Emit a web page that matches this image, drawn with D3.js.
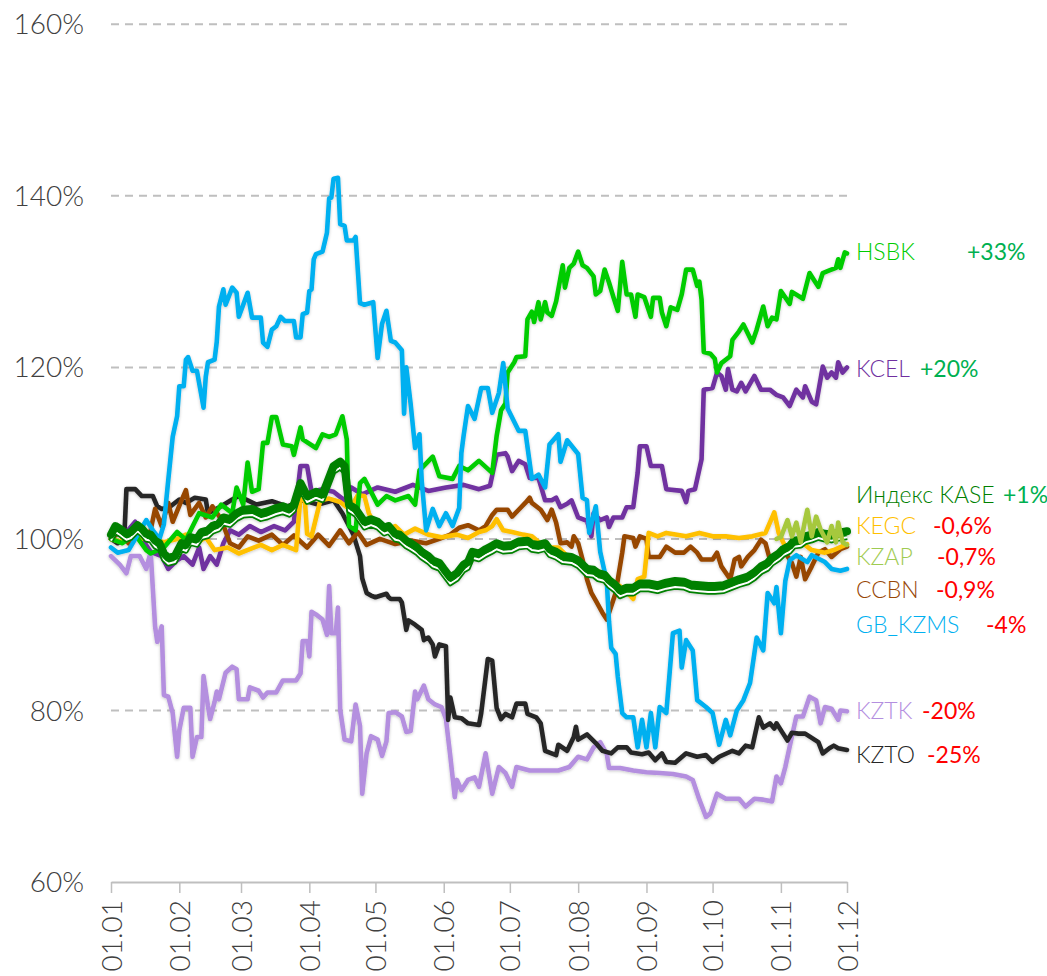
<!DOCTYPE html>
<html>
<head>
<meta charset="utf-8">
<script src="https://cdn.jsdelivr.net/npm/d3@7/dist/d3.min.js"></script>
<style>
  html, body { margin: 0; padding: 0; background: #fff; }
  svg { display: block; }
  text { font-family: Lato, "Open Sans", sans-serif; }
</style>
</head>
<body>
<div id="chart"></div>
<script>
// y axis ticks (percent of start value)
var yTicks = [60, 80, 100, 120, 140, 160];

// month starts for the x axis
var xTicks = ["01.01","01.02","01.03","01.04","01.05","01.06","01.07","01.08","01.09","01.10","01.11","01.12"];

// series: [date dd.mm, value in % of 01.01]
var kztk = [["01.01",98],["05.01",97],["08.01",96],["10.01",98],["14.01",98],["17.01",96.5],["19.01",98.5],["21.01",89.8],["22.01",88],["24.01",89.8],["25.01",81.8],["27.01",81.6],["29.01",79.7],["31.01",74.6],["01.02",77.7],["03.02",80.3],["06.02",80.3],["07.02",74.6],["09.02",76.9],["11.02",76.9],["12.02",84],["14.02",80.5],["15.02",79],["17.02",81],["18.02",82.2],["19.02",81.3],["22.02",84.4],["25.02",85.1],["27.02",84.8],["28.02",81.3],["04.03",81.3],["05.03",82.7],["09.03",82.3],["11.03",81.5],["13.03",82.1],["17.03",82.1],["20.03",83.5],["26.03",83.5],["28.03",84.3],["29.03",88.1],["31.03",88.1],["01.04",86.3],["02.04",91.5],["04.04",91.2],["07.04",90.6],["09.04",88.8],["10.04",94.5],["11.04",89],["13.04",89],["14.04",92],["15.04",80.1],["17.04",76.6],["20.04",76.4],["22.04",80.7],["24.04",78.2],["25.04",70.3],["27.04",75],["29.04",77],["02.05",76.6],["04.05",74.7],["06.05",76.4],["07.05",79.7],["10.05",79.8],["13.05",79.3],["15.05",77.5],["17.05",77.6],["19.05",82.2],["20.05",81.3],["23.05",82.9],["25.05",81.3],["28.05",80.7],["31.05",80.4],["02.06",79],["04.06",74.6],["06.06",69.9],["07.06",71.9],["09.06",70.7],["12.06",71.9],["15.06",72.2],["17.06",71.1],["20.06",75],["23.06",70.3],["26.06",73.4],["29.06",72.7],["02.07",71.1],["04.07",73.4],["10.07",73],["17.07",73],["23.07",73],["28.07",73.4],["01.08",74.6],["05.08",74.3],["08.08",75.7],["11.08",76.3],["14.08",74.9],["15.08",73.3],["20.08",73.3],["26.08",73],["01.09",72.8],["07.09",72.7],["13.09",72.6],["19.09",72.3],["22.09",71.9],["25.09",69.6],["28.09",67.6],["30.09",68],["03.10",70.3],["07.10",69.7],["13.10",69.7],["16.10",68.8],["20.10",69.7],["24.10",69.6],["28.10",69.4],["30.10",72.3],["01.11",71.5],["03.11",73.4],["05.11",75.8],["08.11",79.3],["11.11",79.3],["14.11",81.6],["17.11",81.2],["19.11",78.5],["21.11",80.4],["24.11",80.2],["27.11",78.9],["28.11",80],["01.12",79.9]];

var kzto = [["01.01",100],["04.01",99.5],["07.01",100],["08.01",105.8],["12.01",105.8],["15.01",105],["20.01",105],["22.01",103.8],["24.01",103.5],["27.01",103.6],["01.02",104.6],["04.02",104.2],["08.02",104.8],["13.02",104.6],["14.02",103],["20.02",103.8],["25.02",104.6],["28.02",105],["08.03",104],["15.03",104.4],["22.03",103.8],["29.03",104.5],["05.04",104],["12.04",104.5],["16.04",103],["19.04",101.5],["21.04",100.5],["24.04",98],["25.04",95.4],["27.04",93.7],["29.04",93.4],["01.05",93.2],["06.05",93.6],["07.05",93.2],["08.05",93],["12.05",93],["13.05",92.6],["15.05",89.4],["16.05",90.5],["19.05",90],["22.05",89.4],["23.05",88.2],["25.05",88.5],["27.05",87.7],["28.05",86.3],["30.05",87.7],["02.06",87.5],["03.06",78.9],["04.06",81.5],["06.06",79.2],["09.06",79.1],["12.06",78.5],["17.06",78.3],["18.06",79.7],["21.06",86],["23.06",85.8],["25.06",80.3],["27.06",79],["29.06",79.6],["02.07",79.2],["04.07",80.8],["08.07",80.8],["09.07",79.6],["13.07",79.2],["15.07",78.5],["17.07",75.3],["22.07",74.8],["23.07",76],["27.07",75.3],["30.07",76.9],["31.07",78.1],["01.08",76.6],["05.08",77.2],["09.08",76.2],["12.08",75.3],["16.08",75],["19.08",75.7],["23.08",75.7],["25.08",75.1],["30.08",74.9],["02.09",75.1],["05.09",74.2],["08.09",75],["10.09",74],["14.09",73.9],["19.09",75],["24.09",74.6],["28.09",74.8],["01.10",74],["04.10",74.6],["10.10",75.3],["13.10",75],["16.10",75.9],["19.10",75.7],["22.10",79.2],["24.10",78],["27.10",78.5],["29.10",77.9],["30.10",78.5],["02.11",77.3],["04.11",76.5],["06.11",77.4],["09.11",77.3],["12.11",77.3],["15.11",76.8],["18.11",76.3],["20.11",75],["23.11",75.6],["25.11",75.9],["27.11",75.6],["01.12",75.4]];

var kcel = [["01.01",100],["04.01",101.5],["07.01",100.5],["12.01",102],["15.01",100],["19.01",98.5],["24.01",98],["27.01",96.5],["31.01",97.5],["03.02",98],["07.02",97],["10.02",99],["12.02",96.5],["15.02",98],["18.02",97],["21.02",99.5],["24.02",101],["28.02",100.5],["05.03",101.5],["10.03",100.8],["16.03",101.5],["21.03",101],["25.03",102],["28.03",108.5],["31.03",108.5],["02.04",105.5],["07.04",105.8],["12.04",105.5],["17.04",104.5],["20.04",106],["25.04",105.2],["02.05",106],["10.05",105.5],["18.05",106.3],["25.05",105.6],["02.06",106],["10.06",106.3],["17.06",105.8],["22.06",106.2],["25.06",109.8],["29.06",110],["30.06",109.6],["02.07",107.9],["05.07",109.1],["08.07",108.7],["10.07",107.1],["14.07",107.1],["17.07",104.5],["20.07",104.5],["22.07",104.8],["24.07",103.7],["27.07",104.1],["29.07",104.5],["01.08",102.5],["05.08",102.1],["07.08",100.3],["08.08",103],["11.08",102.2],["14.08",102.5],["15.08",101.4],["17.08",102.5],["21.08",102.5],["23.08",103.7],["26.08",103.7],["28.08",107.7],["29.08",110.8],["01.09",110.8],["03.09",108.5],["08.09",108.5],["10.09",105.8],["17.09",105.6],["19.09",104.3],["20.09",105.6],["23.09",105.8],["26.09",109.3],["27.09",117.4],["01.10",117.6],["03.10",119.4],["05.10",119],["07.10",117.4],["08.10",119.8],["10.10",117.4],["12.10",117.2],["14.10",118.2],["16.10",117.2],["20.10",119],["23.10",117.4],["27.10",117.4],["30.10",116.8],["02.11",116.5],["05.11",115.5],["08.11",117.4],["11.11",116.5],["12.11",117.8],["15.11",116],["17.11",115.7],["20.11",120.1],["22.11",118.8],["24.11",119.4],["26.11",118.8],["27.11",120.6],["29.11",119.4],["01.12",120]];

var ccbn = [["01.01",100],["05.01",100.8],["09.01",99.5],["13.01",100.5],["18.01",99.8],["21.01",103.5],["24.01",101.5],["27.01",104.2],["29.01",102],["02.02",104.5],["04.02",105.7],["06.02",102.8],["10.02",104.2],["13.02",102.5],["16.02",103.8],["20.02",102.3],["24.02",99.5],["28.02",99],["04.03",100.3],["09.03",99.8],["15.03",100.5],["20.03",99.3],["25.03",100.4],["31.03",99],["05.04",100.5],["10.04",99.2],["15.04",101],["19.04",99.5],["23.04",100.8],["27.04",99.3],["03.05",100],["10.05",99.4],["17.05",99.8],["24.05",99.5],["30.05",100],["04.06",100.5],["08.06",101.3],["12.06",101.6],["17.06",101],["20.06",101.5],["23.06",102.8],["25.06",103.4],["30.06",103.4],["02.07",102.6],["05.07",103.4],["08.07",104.2],["10.07",104.8],["11.07",104.2],["15.07",103.4],["18.07",102.2],["20.07",103.4],["22.07",101.9],["24.07",99.5],["27.07",99.6],["29.07",99.1],["30.07",100.3],["01.08",99.5],["03.08",97.6],["05.08",95.3],["07.08",93.7],["09.08",92.8],["12.08",91.4],["14.08",90.6],["18.08",93.7],["21.08",98.4],["22.08",100.3],["26.08",100.1],["27.08",99.1],["29.08",100.3],["01.09",100],["02.09",97.9],["07.09",97.9],["10.09",99.1],["14.09",98.4],["18.09",98.4],["21.09",99.1],["24.09",98.4],["26.09",97.6],["01.10",97.6],["03.10",98.4],["05.10",96.8],["09.10",95.3],["11.10",97.6],["13.10",97.9],["14.10",96.8],["17.10",97.9],["20.10",98.7],["23.10",99.9],["25.10",99.5],["27.10",97.6],["31.10",97.6],["03.11",98.4],["06.11",97.2],["08.11",95.6],["10.11",97.9],["12.11",95.3],["15.11",96.8],["18.11",98.4],["21.11",98.8],["24.11",97.9],["28.11",98.8],["01.12",99.1]];

var kegc = [["01.01",100],["05.01",99.7],["09.01",100.4],["14.01",100],["19.01",100.2],["25.01",99.6],["31.01",100],["04.02",100.5],["09.02",99.5],["13.02",100.2],["17.02",98.7],["23.02",99],["28.02",98.3],["05.03",98.8],["10.03",99.3],["15.03",98.7],["20.03",99.3],["26.03",98.7],["28.03",105],["30.03",104.4],["31.03",100.6],["02.04",100.3],["06.04",104.5],["10.04",104.7],["15.04",104.3],["18.04",103.7],["20.04",103.7],["23.04",105.1],["26.04",105],["28.04",103],["30.04",102],["02.05",101.5],["04.05",101],["06.05",100.9],["10.05",101.5],["14.05",100.5],["19.05",101.2],["25.05",100.5],["31.05",100.2],["07.06",100.5],["12.06",100.1],["17.06",100.8],["20.06",101],["23.06",101.5],["25.06",102.3],["28.06",101],["02.07",100.8],["07.07",100.5],["11.07",100.3],["17.07",99],["23.07",99],["29.07",97.5],["03.08",96.8],["08.08",96.5],["14.08",95.7],["17.08",94.9],["20.08",94.5],["23.08",93.8],["26.08",93],["28.08",95.3],["31.08",95.6],["02.09",100.7],["06.09",100.3],["10.09",100.7],["19.09",100.3],["25.09",100.7],["01.10",100.3],["07.10",100.3],["13.10",100.1],["19.10",100.3],["25.10",100.7],["29.10",103.1],["31.10",100.7],["03.11",99.1],["07.11",99.2],["11.11",99.5],["15.11",98.7],["21.11",98.4],["25.11",98.7],["01.12",99.4]];

var hsbk = [["01.01",100],["06.01",99.5],["12.01",100.5],["17.01",98.7],["19.01",98.3],["25.01",99],["31.01",100.8],["04.02",99.9],["10.02",103],["16.02",102.5],["20.02",104],["25.02",103],["27.02",106],["02.03",104],["04.03",108.9],["06.03",105.5],["09.03",105.8],["11.03",111.2],["13.03",111.2],["15.03",114.2],["17.03",114.2],["20.03",111],["24.03",110.8],["25.03",109.8],["28.03",113],["29.03",111.6],["04.04",110.6],["07.04",112.2],["10.04",111.9],["13.04",112.2],["16.04",114.3],["18.04",111.6],["19.04",101.5],["22.04",101],["24.04",106.5],["26.04",107],["02.05",104],["06.05",105],["10.05",104.5],["16.05",105],["19.05",104],["21.05",108],["27.05",109.6],["30.05",107.3],["05.06",107],["08.06",108.5],["12.06",108],["17.06",109.1],["23.06",107.7],["25.06",112],["27.06",115],["29.06",115.8],["30.06",119.4],["03.07",120.6],["04.07",121.2],["08.07",121.3],["09.07",125.6],["11.07",126.5],["12.07",125.3],["14.07",127.6],["15.07",125.6],["17.07",127.6],["18.07",126.4],["20.07",126],["22.07",127.7],["25.07",131.9],["26.07",129.3],["28.07",131.6],["30.07",132.1],["01.08",133.5],["03.08",131.9],["05.08",131.6],["08.08",130.6],["09.08",128.5],["11.08",128.9],["13.08",131.4],["15.08",129.9],["17.08",128.2],["19.08",126.6],["21.08",132.3],["23.08",128.5],["25.08",128.5],["27.08",125.9],["28.08",128.5],["31.08",128.2],["03.09",125.9],["04.09",128.1],["07.09",128.1],["08.09",126.4],["10.09",124.8],["12.09",127],["15.09",126.7],["17.09",128.5],["19.09",131.4],["22.09",131.4],["24.09",129.5],["25.09",130],["26.09",127.9],["27.09",121.8],["30.09",121.6],["02.10",121],["03.10",119.4],["05.10",120.5],["09.10",121.3],["10.10",123.2],["13.10",124.2],["15.10",125],["19.10",122.9],["21.10",124.4],["24.10",127.1],["26.10",124.8],["28.10",125.8],["30.10",125.6],["01.11",128.9],["05.11",127.4],["06.11",128.8],["11.11",128],["14.11",131],["16.11",130.2],["18.11",129.4],["20.11",131],["23.11",131.3],["26.11",131.6],["27.11",132.6],["28.11",131.6],["30.11",133.4],["01.12",133.3]];

var gbkzms = [["01.01",99],["04.01",98.4],["09.01",98.7],["17.01",102.2],["20.01",101],["23.01",100],["25.01",101.7],["27.01",106.9],["29.01",111.9],["31.01",114.3],["01.02",117.8],["03.02",117.8],["04.02",120.9],["05.02",121.2],["07.02",119.6],["09.02",119.6],["12.02",115.3],["13.02",118.9],["14.02",120.6],["17.02",120.9],["18.02",123],["19.02",127.1],["21.02",129.1],["22.02",127.3],["25.02",129.3],["27.02",128.7],["28.02",125.9],["02.03",127.3],["04.03",128.7],["06.03",125.8],["10.03",125.8],["11.03",122.9],["13.03",122.4],["15.03",124.4],["17.03",124.8],["19.03",125.9],["21.03",125.4],["25.03",125.4],["26.03",123.5],["28.03",123.5],["29.03",126.2],["31.03",126.4],["01.04",128.9],["02.04",129.1],["03.04",132.6],["04.04",133.2],["07.04",133.5],["09.04",135.7],["10.04",139.7],["11.04",139.8],["12.04",142],["14.04",142.1],["15.04",136.7],["17.04",136.5],["18.04",134.8],["21.04",134.8],["22.04",135.2],["24.04",127.5],["26.04",127.3],["30.04",127.6],["02.05",121.1],["04.05",125.1],["06.05",126.6],["08.05",123.1],["10.05",122.9],["13.05",122],["14.05",114.6],["15.05",120],["17.05",115.7],["19.05",110.6],["21.05",112.2],["22.05",106.8],["24.05",101],["27.05",103.5],["30.05",101.5],["02.06",103],["05.06",101.5],["08.06",103.6],["09.06",110],["10.06",112],["12.06",115.5],["15.06",114],["18.06",117.6],["21.06",117.6],["23.06",114.7],["26.06",117],["28.06",120.5],["30.06",115.2],["05.07",112.6],["08.07",112.6],["11.07",107],["14.07",107.5],["17.07",106],["19.07",111],["23.07",112.2],["24.07",109],["27.07",111.5],["01.08",109.9],["03.08",104.8],["05.08",104.5],["06.08",100.7],["09.08",103.8],["11.08",98.5],["14.08",95],["15.08",90.4],["16.08",87.3],["18.08",86.6],["19.08",83.9],["21.08",79.7],["23.08",79.2],["26.08",79.2],["28.08",75.7],["30.08",78.9],["01.09",75.7],["03.09",79.7],["05.09",75.7],["07.09",80.4],["10.09",79.7],["13.09",89],["16.09",89.3],["17.09",85],["19.09",88.2],["22.09",87],["24.09",81.2],["28.09",80.4],["01.10",79.7],["04.10",76],["07.10",78.9],["09.10",77.1],["12.10",80],["15.10",81.2],["18.10",83.2],["21.10",88.5],["24.10",87],["26.10",93.7],["29.10",92.5],["30.10",94.4],["01.11",89],["03.11",95.1],["05.11",97.5],["08.11",98.1],["13.11",97.3],["15.11",98.1],["21.11",97.3],["24.11",96.5],["28.11",96.3],["01.12",96.5]];

var kase = [["01.01",100.5],["03.01",101.5],["05.01",101.2],["08.01",100.6],["10.01",100.8],["13.01",101.6],["15.01",101.2],["17.01",100.6],["19.01",100.5],["21.01",99.8],["23.01",99.5],["25.01",98.3],["27.01",97.8],["30.01",98],["02.02",99.5],["04.02",99.3],["06.02",100.2],["09.02",100],["11.02",100.8],["14.02",101],["16.02",101.5],["19.02",101.8],["21.02",102.5],["24.02",102.3],["27.02",103],["02.03",103.4],["06.03",103.5],["10.03",103],["13.03",103.2],["17.03",103.6],["20.03",103.8],["23.03",103.5],["25.03",104],["28.03",106.5],["31.03",105],["04.04",105.5],["07.04",105.2],["09.04",106.5],["12.04",108.5],["15.04",109],["17.04",108.5],["19.04",104],["22.04",103.5],["26.04",102],["29.04",102.3],["02.05",102],["05.05",101.3],["07.05",101.5],["10.05",100.6],["12.05",100.5],["15.05",99.8],["17.05",99.5],["20.05",99],["22.05",98.5],["25.05",98],["27.05",97.5],["30.05",97.2],["01.06",96.5],["04.06",95.5],["07.06",96],["10.06",97],["12.06",97.3],["14.06",98.5],["17.06",98.3],["20.06",98.8],["23.06",99.2],["25.06",99.5],["28.06",99.2],["02.07",99.3],["05.07",99.7],["09.07",99.8],["11.07",99.4],["14.07",99.3],["17.07",99.5],["19.07",98.8],["22.07",98.5],["25.07",98],["29.07",97.9],["01.08",97.5],["05.08",96.5],["08.08",96.4],["10.08",96],["13.08",95.8],["15.08",95.2],["18.08",94.6],["20.08",94],["23.08",94.3],["26.08",94.3],["29.08",94.8],["02.09",94.8],["06.09",94.6],["10.09",94.9],["14.09",95.1],["18.09",95],["21.09",94.7],["25.09",94.6],["29.09",94.5],["02.10",94.5],["06.10",94.6],["09.10",94.9],["13.10",95.3],["17.10",95.6],["20.10",96.1],["23.10",96.8],["26.10",97.2],["28.10",97.8],["31.10",98.3],["02.11",98.8],["05.11",99.2],["07.11",99.8],["10.11",99.9],["12.11",100.3],["15.11",100.5],["18.11",100.8],["21.11",100.6],["24.11",100.5],["27.11",100.7],["01.12",100.9]];

var kzap = [["30.10",100],["01.11",100.2],["04.11",102.2],["06.11",100.3],["08.11",101.9],["10.11",99.6],["12.11",102.2],["13.11",103.4],["15.11",100.3],["17.11",102.6],["19.11",101.1],["22.11",99.6],["24.11",101.5],["26.11",99.6],["27.11",101.9],["29.11",99.6],["01.12",99.3]];

// right-hand labels: name, change, label level (in %), x of the change text
var labelNames  = ["HSBK", "KCEL", "Индекс KASE", "KEGC", "KZAP", "CCBN", "GB_KZMS", "KZTK", "KZTO"];
var labelChange = ["+33%", "+20%", "+1%", "-0,6%", "-0,7%", "-0,9%", "-4%", "-20%", "-25%"];
var labelLevel  = [133.5, 119.9, 105.2, 101.5, 97.9, 94.1, 90.0, 80.0, 74.8];
var labelPctX   = [967, 920, 1003, 933, 937, 936, 986, 922, 927];
var labelColors = ["#00cc00", "#7030a0", "#008000", "#ffc000", "#9fcb52", "#974706", "#00b0f0", "#b48fdf", "#262626"];

var W = 1047, H = 976;
var parse = d3.timeParse("%d.%m");

var svg = d3.select("#chart").append("svg")
  .attr("width", W)
  .attr("height", H);

var defs = svg.append("defs");
var f = defs.append("filter").attr("id", "sh")
  .attr("x", "-5%").attr("y", "-5%").attr("width", "110%").attr("height", "110%");
f.append("feDropShadow")
  .attr("dx", 0).attr("dy", 1)
  .attr("stdDeviation", 1.5)
  .attr("flood-color", "#000")
  .attr("flood-opacity", 0.22);

var x = d3.scaleTime()
  .domain([parse("01.01"), parse("01.12")])
  .range([111, 847]);

var y = d3.scaleLinear()
  .domain([60, 160])
  .range([882, 24.3]);

// grid
svg.append("g")
  .selectAll("line")
  .data(yTicks.filter(function(d) { return d > 60; }))
  .enter().append("line")
    .attr("x1", 111).attr("x2", 847)
    .attr("y1", function(d) { return y(d); })
    .attr("y2", function(d) { return y(d); })
    .attr("stroke", "#bfbfbf")
    .attr("stroke-width", 2)
    .attr("stroke-dasharray", "8,6");

// y labels
svg.append("g")
  .selectAll("text")
  .data(yTicks)
  .enter().append("text")
    .attr("x", 84)
    .attr("y", function(d) { return y(d); })
    .attr("dy", "0.36em")
    .attr("text-anchor", "end")
    .attr("font-size", 28)
    .attr("font-weight", 300)
    .attr("fill", "#404040")
    .text(function(d) { return d + "%"; });

// x axis
var xAxis = svg.append("g")
  .attr("transform", "translate(0," + y(60) + ")")
  .call(d3.axisBottom(x)
    .tickValues(xTicks.map(parse))
    .tickSize(11)
    .tickSizeOuter(0)
    .tickFormat(d3.timeFormat("%d.%m")));
xAxis.select(".domain").attr("stroke", "#bfbfbf").attr("stroke-width", 2);
xAxis.selectAll(".tick line").attr("stroke", "#bfbfbf").attr("stroke-width", 1.5);
xAxis.selectAll(".tick text")
  .attr("font-family", "Lato, sans-serif")
  .attr("font-size", 28)
  .attr("font-weight", 300)
  .attr("fill", "#404040")
  .attr("text-anchor", "end")
  .attr("transform", "rotate(-90)")
  .attr("x", -18)
  .attr("y", 0)
  .attr("dy", "0.36em");

var line = d3.line()
  .x(function(d) { return x(parse(d[0])); })
  .y(function(d) { return y(d[1]); });

var plot = svg.append("g").attr("filter", "url(#sh)");

function draw(data, color, w) {
  plot.append("path")
    .datum(data)
    .attr("d", line)
    .attr("fill", "none")
    .attr("stroke", color)
    .attr("stroke-width", w)
    .attr("stroke-linejoin", "round")
    .attr("stroke-linecap", "round");
}

draw(kztk, "#b48fdf", 4.6);
draw(kzto, "#262626", 4.6);
draw(kcel, "#7030a0", 4.6);
draw(ccbn, "#974706", 4.6);
draw(kegc, "#ffc000", 4.6);
draw(hsbk, "#00cc00", 4.6);
draw(gbkzms, "#00b0f0", 4.6);

// KASE index: thick line with a white-cored shadow line under it
var kg = plot.append("g");
kg.append("path").datum(kase).attr("d", line)
  .attr("transform", "translate(0,6)")
  .attr("fill", "none").attr("stroke", "#008000").attr("stroke-width", 5.5)
  .attr("stroke-linejoin", "round");
kg.append("path").datum(kase).attr("d", line)
  .attr("transform", "translate(0,6)")
  .attr("fill", "none").attr("stroke", "#fff").attr("stroke-width", 2)
  .attr("stroke-linejoin", "round");
kg.append("path").datum(kase).attr("d", line)
  .attr("fill", "none").attr("stroke", "#008000").attr("stroke-width", 8)
  .attr("stroke-linejoin", "round").attr("stroke-linecap", "round");

draw(kzap, "#a6c83c", 4.6);

// labels on the right
var lab = svg.append("g");
labelNames.forEach(function(name, i) {
  lab.append("text")
    .attr("x", 856)
    .attr("y", y(labelLevel[i]))
    .attr("dy", "0.36em")
    .attr("font-size", 23)
    .attr("font-weight", 300)
    .attr("fill", labelColors[i])
    .text(name);
  lab.append("text")
    .attr("x", labelPctX[i])
    .attr("y", y(labelLevel[i]))
    .attr("dy", "0.36em")
    .attr("font-size", 23)
    .attr("fill", labelChange[i][0] === "+" ? "#00b050" : "#ff0000")
    .text(labelChange[i]);
});
</script>
</body>
</html>
